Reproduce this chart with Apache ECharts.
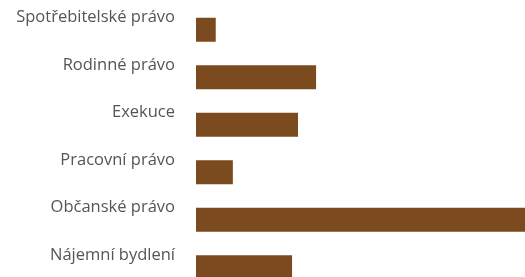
<!DOCTYPE html>
<html>
<head>
<meta charset="utf-8">
<script src="https://cdn.jsdelivr.net/npm/echarts@6/dist/echarts.min.js"></script>
<style>
    html, body { margin: 0; padding: 0; background: #fff; }
    #chart { width: 525px; height: 277px; }
</style>
</head>
<body>
<div id="chart"></div>
<script>
// kategorie (shora dolů)
var categories = ["Spotřebitelské právo", "Rodinné právo", "Exekuce", "Pracovní právo", "Občanské právo", "Nájemní bydlení"];
// hodnoty (osa 0–100, Občanské právo přesahuje okraj)
var values = [6, 36.5, 31, 11.2, 105, 29.2];

var chart = echarts.init(document.getElementById("chart"));
var option = {
    animation: false,
    grid: {
        left: 196,
        right: 0,
        top: 6,
        height: 285,
        outerBoundsMode: "none"
    },
    xAxis: {
        type: "value",
        min: 0,
        max: 100,
        show: false
    },
    yAxis: {
        type: "category",
        inverse: true,
        data: categories,
        axisLine: { show: false },
        axisTick: { show: false },
        axisLabel: {
            margin: 21,
            color: "#555",
            fontFamily: "Open Sans",
            fontSize: 16.5,
            verticalAlign: "bottom",
            lineHeight: 24
        }
    },
    series: [
        {
            type: "bar",
            data: values,
            barWidth: 24,
            itemStyle: { color: "#7b4a1f" }
        }
    ]
};
chart.setOption(option);
</script>
</body>
</html>
